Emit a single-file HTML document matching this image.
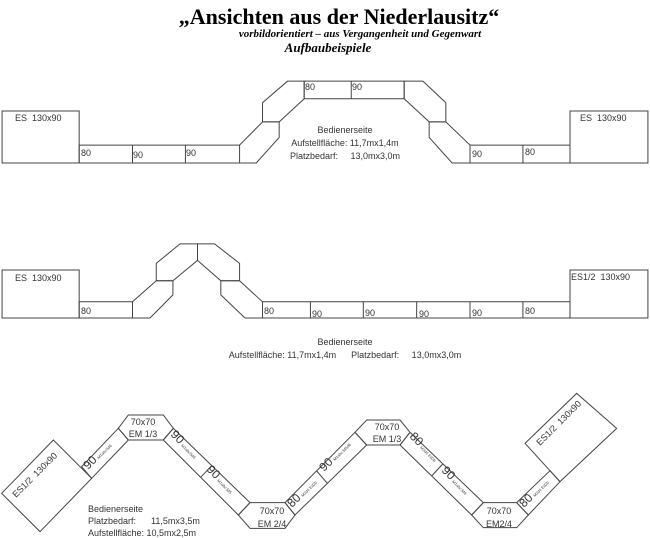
<!DOCTYPE html>
<html><head><meta charset="utf-8"><style>
body{margin:0;background:#fff;}
svg{display:block;}
text{white-space:pre;}
.t{font-family:"Liberation Sans",sans-serif;font-size:9px;fill:#333;}
.s{font-family:"Liberation Sans",sans-serif;font-size:4px;fill:#444;}
.b{font-family:"Liberation Sans",sans-serif;font-size:12px;fill:#333;}
</style></head><body>
<svg width="650" height="538" viewBox="0 0 650 538" xmlns="http://www.w3.org/2000/svg" xml:space="preserve">
<text x="339" y="24" text-anchor="middle" font-family="Liberation Serif,serif" font-weight="bold" font-size="22" fill="#000">„Ansichten aus der Niederlausitz“</text>
<text x="360" y="37" text-anchor="middle" font-family="Liberation Serif,serif" font-weight="bold" font-style="italic" font-size="11" fill="#000">vorbildorientiert – aus Vergangenheit und Gegenwart</text>
<text x="328" y="52" text-anchor="middle" font-family="Liberation Serif,serif" font-weight="bold" font-style="italic" font-size="13" fill="#000">Aufbaubeispiele</text>

<g fill="none" stroke="#444" stroke-width="1">
<g transform="matrix(0.41667 0 0 0.331 0 69.6)">
<rect x="5" y="125" width="185" height="157" vector-effect="non-scaling-stroke"/>
<polyline points="190,282 190,228 575,228" vector-effect="non-scaling-stroke"/>
<line x1="190" y1="282" x2="575" y2="282" vector-effect="non-scaling-stroke"/>
<line x1="318" y1="228" x2="318" y2="282" vector-effect="non-scaling-stroke"/>
<line x1="445" y1="228" x2="445" y2="282" vector-effect="non-scaling-stroke"/>
<polygon points="575,228 630,158 670,158 670,205 615,282 575,282" vector-effect="non-scaling-stroke"/>
<polygon points="630,158 630,100 690,35 730,35 730,88 670,158" vector-effect="non-scaling-stroke"/>
<rect x="730" y="35" width="240" height="53" vector-effect="non-scaling-stroke"/>
<line x1="843" y1="35" x2="843" y2="88" vector-effect="non-scaling-stroke"/>
<polygon points="970,35 1015,35 1070,100 1070,158 1030,158 970,88" vector-effect="non-scaling-stroke"/>
<polygon points="1030,158 1070,158 1128,228 1128,282 1085,282 1030,205" vector-effect="non-scaling-stroke"/>
<rect x="1128" y="228" width="240" height="54" vector-effect="non-scaling-stroke"/>
<line x1="1255" y1="228" x2="1255" y2="282" vector-effect="non-scaling-stroke"/>
<rect x="1368" y="125" width="187" height="157" vector-effect="non-scaling-stroke"/>
</g>
<g transform="matrix(0.41667 0 0 0.3 0 233.4)">
<rect x="5" y="122" width="185" height="160" vector-effect="non-scaling-stroke"/>
<rect x="190" y="228" width="128" height="54" vector-effect="non-scaling-stroke"/>
<polygon points="318,228 375,158 415,158 415,205 360,282 318,282" vector-effect="non-scaling-stroke"/>
<polygon points="375,158 375,100 432,35 474,35 474,90 415,158" vector-effect="non-scaling-stroke"/>
<polygon points="474,35 515,35 575,100 575,158 530,158 474,90" vector-effect="non-scaling-stroke"/>
<polygon points="530,158 575,158 630,228 630,282 588,282 530,205" vector-effect="non-scaling-stroke"/>
<rect x="630" y="228" width="738" height="54" vector-effect="non-scaling-stroke"/>
<line x1="745" y1="228" x2="745" y2="282" vector-effect="non-scaling-stroke"/>
<line x1="872" y1="228" x2="872" y2="282" vector-effect="non-scaling-stroke"/>
<line x1="1000" y1="228" x2="1000" y2="282" vector-effect="non-scaling-stroke"/>
<line x1="1128" y1="228" x2="1128" y2="282" vector-effect="non-scaling-stroke"/>
<line x1="1255" y1="228" x2="1255" y2="282" vector-effect="non-scaling-stroke"/>
<rect x="1368" y="122" width="187" height="160" vector-effect="non-scaling-stroke"/>
</g>
<g transform="matrix(0.33333 0 0 0.33333 0 400)">
<polygon points="160,120 275,235 120,395 5,280" vector-effect="non-scaling-stroke"/>
<polygon points="275,235 385,120 355,85 245,200" vector-effect="non-scaling-stroke"/>
<polygon points="355,85 385,45 490,45 520,85 490,120 385,120" vector-effect="non-scaling-stroke"/>
<polygon points="490,120 715,345 750,308 520,85" vector-effect="non-scaling-stroke"/>
<line x1="602" y1="232" x2="635" y2="197" vector-effect="non-scaling-stroke"/>
<polygon points="715,345 750,308 855,308 885,345 855,385 750,385" vector-effect="non-scaling-stroke"/>
<polygon points="855,308 885,345 1100,135 1065,97" vector-effect="non-scaling-stroke"/>
<line x1="950" y1="213" x2="982" y2="250" vector-effect="non-scaling-stroke"/>
<polygon points="1065,97 1100,60 1200,60 1230,97 1200,135 1100,135" vector-effect="non-scaling-stroke"/>
<polygon points="1200,135 1415,345 1450,308 1230,97" vector-effect="non-scaling-stroke"/>
<line x1="1295" y1="228" x2="1328" y2="192" vector-effect="non-scaling-stroke"/>
<polygon points="1415,345 1450,308 1550,308 1585,345 1550,383 1450,383" vector-effect="non-scaling-stroke"/>
<polygon points="1550,308 1585,345 1680,245 1650,212" vector-effect="non-scaling-stroke"/>
<polygon points="1575,130 1730,-20 1850,85 1680,245" vector-effect="non-scaling-stroke"/>
</g>
</g>

<text class="t" x="15" y="121">ES  130x90</text>
<text class="t" x="580" y="121">ES  130x90</text>
<text class="t" x="81" y="156">80</text>
<text class="t" x="133" y="158">90</text>
<text class="t" x="186" y="156">90</text>
<text class="t" x="305" y="90">80</text>
<text class="t" x="352" y="90">90</text>
<text class="t" x="472" y="157">90</text>
<text class="t" x="525" y="155">80</text>
<text class="t" x="345" y="133" text-anchor="middle">Bedienerseite</text>
<text class="t" x="345" y="146" text-anchor="middle">Aufstellfläche: 11,7mx1,4m</text>
<text class="t" x="345" y="159" text-anchor="middle">Platzbedarf:     13,0mx3,0m</text>
<text class="t" x="15" y="281">ES  130x90</text>
<text class="t" x="571" y="280">ES1/2  130x90</text>
<text class="t" x="81" y="314">80</text>
<text class="t" x="264" y="314">80</text>
<text class="t" x="312" y="317">90</text>
<text class="t" x="365" y="316">90</text>
<text class="t" x="419" y="317">90</text>
<text class="t" x="472" y="316">90</text>
<text class="t" x="525" y="314">80</text>
<text class="t" x="345" y="345" text-anchor="middle">Bedienerseite</text>
<text class="t" x="345" y="358" text-anchor="middle">Aufstellfläche: 11,7mx1,4m      Platzbedarf:     13,0mx3,0m</text>
<text class="t" transform="translate(16,498) rotate(-45)" font-size="10">ES1/2  130x90</text>
<text transform="translate(88,470) rotate(-45)"><tspan class="b">90</tspan><tspan class="s" dx="2">M1abc5d6</tspan></text>
<text class="t" x="143" y="425" text-anchor="middle">70x70</text>
<text class="t" x="143" y="437" text-anchor="middle">EM 1/3</text>
<text transform="translate(170,435) rotate(45)"><tspan class="b">90</tspan><tspan class="s" dx="2">M1abc5d6</tspan></text>
<text transform="translate(206,470) rotate(45)"><tspan class="b">90</tspan><tspan class="s" dx="2">M1abc3d5</tspan></text>
<text class="t" x="272" y="514" text-anchor="middle">70x70</text>
<text class="t" x="272" y="527" text-anchor="middle">EM 2/4</text>
<text transform="translate(292,508) rotate(-45)"><tspan class="b">80</tspan><tspan class="s" dx="2">M2d4 Ed2b</tspan></text>
<text transform="translate(324,472) rotate(-45)"><tspan class="b">90</tspan><tspan class="s" dx="2">M1abc3d5d6</tspan></text>
<text class="t" x="387" y="430" text-anchor="middle">70x70</text>
<text class="t" x="387" y="442" text-anchor="middle">EM 1/3</text>
<text transform="translate(409,437) rotate(45)"><tspan class="b">80</tspan><tspan class="s" dx="2">M2d4 Ed2b</tspan></text>
<text transform="translate(441,471) rotate(45)"><tspan class="b">90</tspan><tspan class="s" dx="2">M1abc3d6</tspan></text>
<text class="t" x="499" y="514" text-anchor="middle">70x70</text>
<text class="t" x="499" y="527" text-anchor="middle">EM2/4</text>
<text transform="translate(524,508) rotate(-45)"><tspan class="b">80</tspan><tspan class="s" dx="2">M2d4 Ed2b</tspan></text>
<text class="t" transform="translate(540,446) rotate(-45)" font-size="10">ES1/2  130x90</text>
<text class="t" x="88" y="512">Bedienerseite</text>
<text class="t" x="88" y="524">Platzbedarf:      11,5mx3,5m</text>
<text class="t" x="88" y="536">Aufstellfläche: 10,5mx2,5m</text>
</svg>
</body></html>
